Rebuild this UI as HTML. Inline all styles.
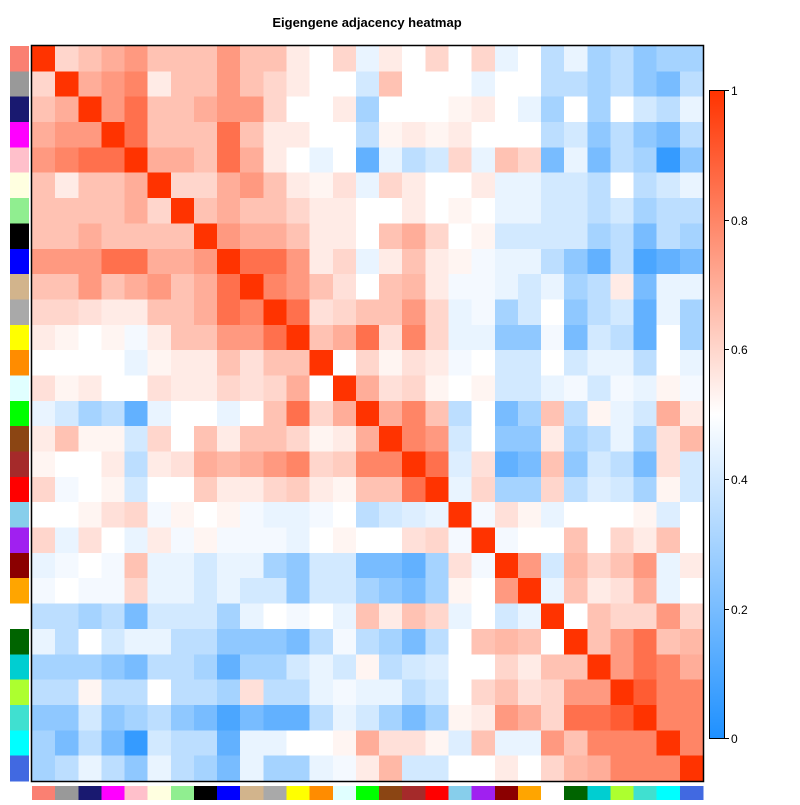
<!DOCTYPE html>
<html><head><meta charset="utf-8"><style>
body{margin:0;background:#fff;width:800px;height:800px;overflow:hidden;font-family:"Liberation Sans",sans-serif}
svg text{font-family:"Liberation Sans",sans-serif}
</style></head><body>
<svg id="s" width="800" height="800" xmlns="http://www.w3.org/2000/svg">
<rect width="800" height="800" fill="#fff"/>
<text x="367" y="27" text-anchor="middle" font-size="13" font-weight="bold">Eigengene adjacency heatmap</text>
<g id="cells" shape-rendering="crispEdges"></g>
<rect x="31.5" y="45.5" width="672" height="736" fill="none" stroke="#000" stroke-width="1.5"/>
<defs><linearGradient id="lg" x1="0" y1="0" x2="0" y2="1">
<stop offset="0" stop-color="#FF3300"/><stop offset="0.5" stop-color="#fff"/><stop offset="1" stop-color="#1E90FF"/></linearGradient></defs>
<rect x="709.5" y="90.5" width="15" height="648" fill="url(#lg)" stroke="#000" stroke-width="1"/>
<g stroke="#000" stroke-width="1">
<line x1="724" y1="90.5" x2="729" y2="90.5"/><line x1="724" y1="220.5" x2="729" y2="220.5"/>
<line x1="724" y1="349.5" x2="729" y2="349.5"/><line x1="724" y1="479.5" x2="729" y2="479.5"/>
<line x1="724" y1="609.5" x2="729" y2="609.5"/><line x1="724" y1="738.5" x2="729" y2="738.5"/>
</g>
<g font-size="12">
<text x="731" y="95">1</text><text x="731" y="225">0.8</text><text x="731" y="354">0.6</text>
<text x="731" y="484">0.4</text><text x="731" y="614">0.2</text><text x="731" y="743">0</text>
</g>
</svg>
<script>
var M=[
[10,2,3,4,5,3,3,3,5,3,3,1,0,2,-1,1,0,2,0,2,-1,0,-3,-1,-4,-3,-5,-4,-4],
[2,10,4,5,6,1,3,3,5,3,2,1,0,0,-2,3,0,0,0,-1,0,0,-3,-3,-4,-3,-5,-6,-3],
[3,4,10,5,7,3,3,4,5,5,2,0,0,1,-4,0,0,0,0.5,1,0,-1,-4,0,-4,0,-2,-3,-1],
[4,5,5,10,7,3,3,3,7,3,1,1,0,0,-3,0.5,1,0.5,1,0,0,0,-3,-2,-5,-3,-5,-6,-3],
[5,6,7,7,10,4,4,3,7,4,1,0,-1,0,-7,-1,-3,-2,2,-1,3,2,-6,-1,-6,-3,-4,-9,-5],
[3,1,3,3,4,10,2,2,4,5,3,1,0.5,1.5,-1,2,1,0,0,1,-1,-1,-2,-2,-3,0,-3,-2,-1],
[3,3,3,3,4,2,10,3,4,3,3,2,1,1,0,0,1,0,0.5,0,-1,-1,-2,-2,-3,-2,-4,-3,-3],
[3,3,4,3,3,3,3,10,5,4,4,3,1,1,0,3,4,2,0,0.5,-2,-2,-2,-2,-4,-3,-6,-3,-4],
[5,5,5,7,7,4,4,5,10,7,7,5,1,2,-1,1,3,1,0.5,-0.5,-1,-1,-3,-5,-7,-3,-8,-7,-6],
[3,3,5,3,4,5,3,4,7,10,6,5,3,1.5,0,3,3.5,1,-0.5,-0.5,-1,-2,-1,-4,-3,1,-6,-1,-1],
[2,2,1.5,1,1,3,3,4,7,6,10,7,1.5,2,3,3,5,2,-1,-0.5,-4,-2,0,-5,-3,-2,-7,-1,-4],
[1,0.5,0,0.5,-0.5,1,3,3,5,5,7,10,3,4,7,1.5,6,2,-1,-1,-5,-5,-0.5,-6,-2,-3,-7,0,-4],
[0,0,0,0,-1,0.5,1,1,3,1.5,3,3,10,0,2,0.5,1.5,1,-0.5,0,-2,-2,0,-2,-1,-1,-3,0,-1],
[1.5,0.5,1,0,0,1.5,1,1,2,1.5,2,4,0,10,4,1.5,2,0.5,0,0.5,-2,-2,-1,-0.5,-2,-0.5,-1,0.5,-0.5],
[-1,-2,-4,-3,-7,-1,0,0,-1,0,3,7,2,4,10,4,6,3,-3,0,-6,-4,3,-3,0.5,-1,-2,4,1],
[1,3,0.5,0.5,-2,2,0,3,1,3,3,2,0.5,1,4,10,6,5,-2,0,-5,-5,1,-4,-3,-1,-4,1.5,3.5],
[0.5,0,0,1,-3,1,1.5,4,3.5,4,5,6,2,2.5,6,6,10,7,-1.5,1.5,-7,-6,3,-5,-2,-3,-6,1.5,-2],
[2,-0.5,0,0.5,-2,0,0,2.5,1,1,2,2.5,1,0.5,3,3,7,10,-1,2,-4,-4,2,-3,-1.5,-2,-4,0.5,-2],
[0,0,0.5,1.5,2,-0.5,0.5,0,0.5,-0.5,-1,-1,-0.5,0,-3,-2,-1.5,-1,10,-0.5,1.5,0.5,-1,0,0,0,0.5,-1.5,0],
[2,-1,1.5,0,-1,1,-0.5,0.5,-0.5,-0.5,-0.5,-1,0,0.5,0,0,1.5,2,-0.5,10,-0.5,0,0,3,0,2,1,3,0],
[-1,-0.5,0,-0.5,3,-1,-1,-2,-1,-1,-4,-5,-2,-2,-6,-6,-7,-4,1.5,-0.5,10,5,-2,3.5,2,3,5,-1,1],
[-0.5,0,-0.5,-0.5,2,-1,-1,-2,-1,-2,-2,-5,-2,-2,-4,-5,-6,-4,0.5,0,5,10,-1,3,1,1.5,4,-1,0],
[-3,-3,-4,-3,-6,-2,-2,-2,-4,-1,0,-0.5,0,-1,3,1,3,2,-1,0,-2,-1,10,0,3,2,2,5,2],
[-1,-3,0,-2,-1,-1,-3,-3,-5,-5,-5,-6,-3,-0.5,-3,-4,-6,-3,0,3,3.5,3,0,10,3,5,7,3,3.5],
[-4,-4,-4,-5,-6,-3,-3,-4,-7,-4,-4,-2,-1,-2,0.5,-3,-2,-1.5,0,0,2,1,3,3,10,5,7,6,4],
[-3,-3,0.5,-3,-3,0,-3,-3,-4,1.5,-3,-3,-1,-0.5,-1,-1,-3,-2,0,2,3,1.5,2,5,5,10,8,6,6],
[-5,-5,-2,-5,-4,-3,-5,-6,-8,-6,-7,-7,-3,-1,-2,-4,-6,-4,0.5,1,5,4,2,7,7,8,10,6,6],
[-4,-6,-3,-6,-9,-2,-3,-3,-7,-1,-1,0,0,0.5,4,1.5,1.5,0.5,-1.5,3,-1,-1,5,3,6,6,6,10,6],
[-4,-3,-1,-3,-5,-1,-3,-4,-6,-1,-4,-4,-1,-0.5,1,3.5,-2,-2,0,0,1,0,2,3.5,4,6,6,6,10]];
var C=["#FA8072","#999999","#191970","#FF00FF","#FFC0CB","#FFFFE0","#90EE90","#000000","#0000FF","#D2B48C","#A9A9A9","#FFFF00","#FF8C00","#E0FFFF","#00FF00","#8B4513","#A52A2A","#FF0000","#87CEEB","#A020F0","#8B0000","#FFA500","#FFFFFF","#006400","#00CED1","#ADFF2F","#40E0D0","#00FFFF","#4169E1"];
function col(v){var f=Math.max(-1,Math.min(1,v/10));var r,g,b;
if(f>=0){r=255;g=255-204*f;b=255-255*f;}else{f=-f;r=255-225*f;g=255-111*f;b=255;}
return "rgb("+Math.round(r)+","+Math.round(g)+","+Math.round(b)+")";}
var g=document.getElementById("cells"),ns="http://www.w3.org/2000/svg",n=29,x0=32,y0=46,w=671/n,h=735/n,out="";
for(var i=0;i<n;i++){for(var j=0;j<n;j++){
out+='<rect x="'+(x0+j*w).toFixed(2)+'" y="'+(y0+i*h).toFixed(2)+'" width="'+(w+0.6).toFixed(2)+'" height="'+(h+0.6).toFixed(2)+'" fill="'+col(M[i][j])+'"/>';}
out+='<rect x="10" y="'+(y0+i*h).toFixed(2)+'" width="19" height="'+(h+0.4).toFixed(2)+'" fill="'+C[i]+'"/>';
out+='<rect x="'+(x0+i*w).toFixed(2)+'" y="786" width="'+(w+0.4).toFixed(2)+'" height="14" fill="'+C[i]+'"/>';}
g.innerHTML=out;
</script>
</body></html>
